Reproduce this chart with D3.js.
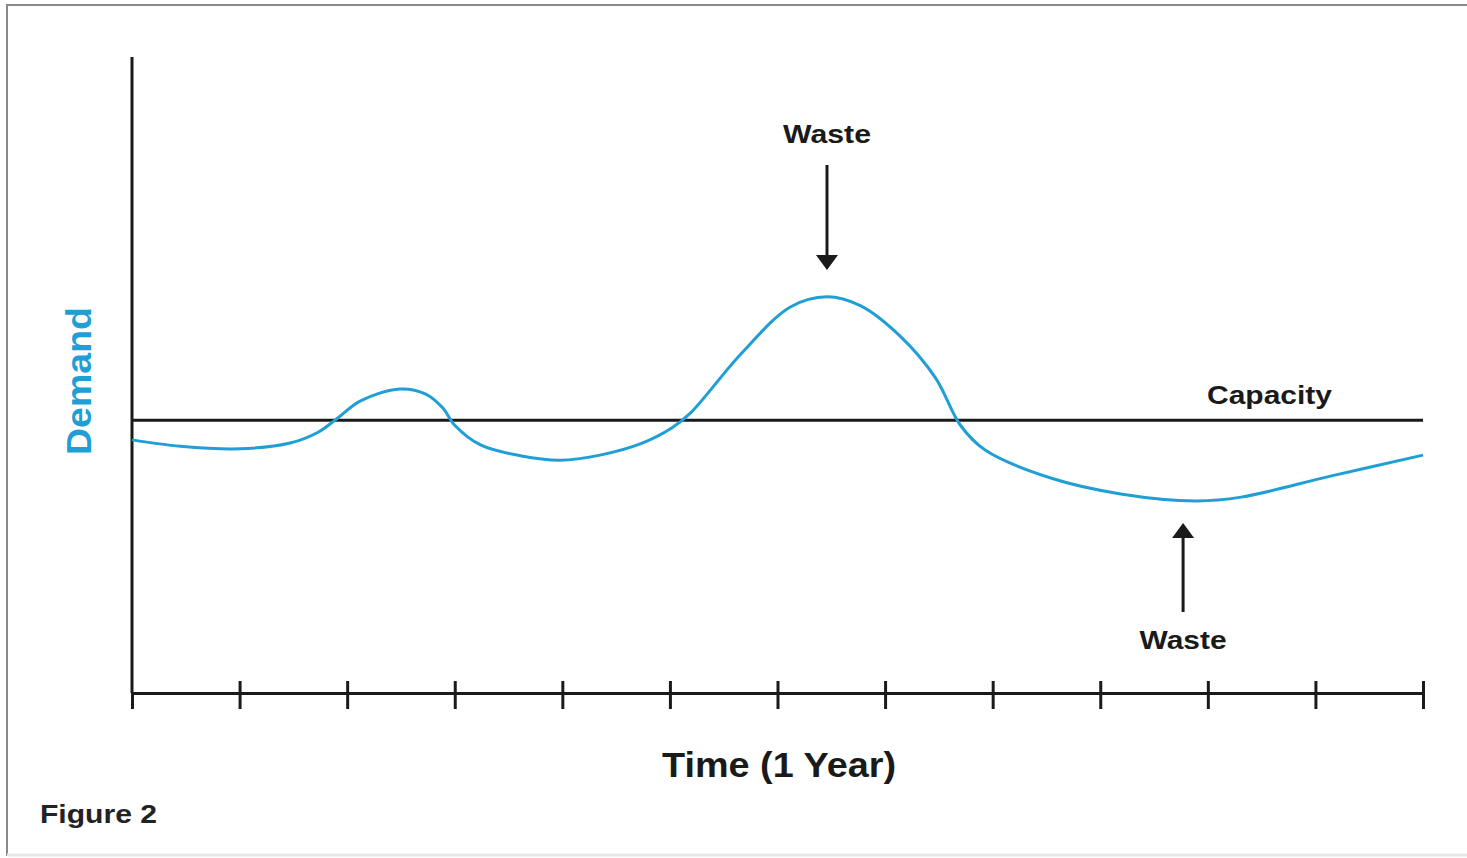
<!DOCTYPE html>
<html>
<head>
<meta charset="utf-8">
<script src="https://cdn.jsdelivr.net/npm/d3@7"></script>
<style>
  body { margin: 0; background: #fff; }
  svg { display: block; font-family: "Liberation Sans", Arial, sans-serif; }
</style>
</head>
<body>
<svg id="chart" width="1467" height="858"></svg>
<script>
// months along the year (0..12) and demand in arbitrary units
const months = [0, 0.45, 1.0, 1.47, 1.73, 1.91, 2.12, 2.49, 2.73, 2.89, 3.0, 3.24, 3.61, 3.98, 4.35, 4.73, 5.02, 5.19, 5.66, 6.12, 6.46, 6.77, 7.14, 7.47, 7.7, 7.93, 8.54, 9.19, 9.89, 10.31, 11.14, 12.0];
const demand = [3.98, 3.88, 3.84, 3.93, 4.10, 4.32, 4.59, 4.78, 4.70, 4.48, 4.21, 3.90, 3.73, 3.66, 3.74, 3.92, 4.17, 4.40, 5.33, 6.07, 6.23, 6.09, 5.61, 4.95, 4.21, 3.82, 3.38, 3.13, 3.02, 3.08, 3.41, 3.74];
const capacity = 4.29;
const tickMonths = d3.range(0, 13);
const wastePeak = { month: 6.46, label: "Waste" };
const wasteDip = { month: 9.77, label: "Waste" };

const svg = d3.select("#chart");
const margin = { top: 57, right: 44, bottom: 165, left: 132 };
const width = 1467, height = 858;

const x = d3.scaleLinear().domain([0, 12]).range([margin.left, width - margin.right]);
const y = d3.scaleLinear().domain([0, 10]).range([height - margin.bottom, margin.top]);

// frame
svg.append("rect")
  .attr("x", 7).attr("y", 5)
  .attr("width", 1470).attr("height", 850)
  .attr("fill", "none")
  .attr("stroke", "#8a8a8a")
  .attr("stroke-width", 2);
svg.append("line")
  .attr("x1", 7).attr("x2", 1467).attr("y1", 855).attr("y2", 855)
  .attr("stroke", "#e8e8e8").attr("stroke-width", 3);

const ink = "#1a1a1a";
const blue = "#1f9fd6";

// y axis (no ticks)
svg.append("line")
  .attr("x1", x(0)).attr("x2", x(0))
  .attr("y1", y(10)).attr("y2", y(0))
  .attr("stroke", ink).attr("stroke-width", 3);

// x axis
const xAxis = svg.append("g")
  .attr("transform", `translate(0,${y(0)})`)
  .call(d3.axisBottom(x).tickValues(tickMonths).tickFormat("").tickSize(16).tickSizeOuter(0));
xAxis.select(".domain").attr("stroke", ink).attr("stroke-width", 3);
xAxis.selectAll(".tick line")
  .attr("stroke", ink).attr("stroke-width", 3)
  .attr("y1", d => d === 0 ? 0 : -12);

// capacity line
svg.append("line")
  .attr("x1", x(0)).attr("x2", x(12))
  .attr("y1", y(capacity)).attr("y2", y(capacity))
  .attr("stroke", ink).attr("stroke-width", 3);

// bold label stretched to the width it has in the figure
function label(xp, yp, txt, size, len, anchor, fill) {
  return svg.append("text")
    .attr("x", xp).attr("y", yp)
    .attr("text-anchor", anchor || "start")
    .attr("font-size", size).attr("font-weight", "bold")
    .attr("fill", fill || ink)
    .attr("textLength", len).attr("lengthAdjust", "spacingAndGlyphs")
    .text(txt);
}

label(1207, y(capacity) - 16, "Capacity", 25, 125);

// demand curve
const line = d3.line()
  .x((d, i) => x(months[i]))
  .y(d => y(d))
  .curve(d3.curveCatmullRom.alpha(0.5));

svg.append("path")
  .datum(demand)
  .attr("d", line)
  .attr("fill", "none")
  .attr("stroke", blue)
  .attr("stroke-width", 3);

// arrows
function arrow(xm, yFrom, yTo) {
  const dir = yTo > yFrom ? 1 : -1;
  const headLen = 15, headHalf = 11;
  svg.append("line")
    .attr("x1", x(xm)).attr("x2", x(xm))
    .attr("y1", yFrom).attr("y2", yTo - dir * headLen)
    .attr("stroke", ink).attr("stroke-width", 3);
  svg.append("path")
    .attr("d", `M${x(xm) - headHalf},${yTo - dir * headLen}L${x(xm) + headHalf},${yTo - dir * headLen}L${x(xm)},${yTo}Z`)
    .attr("fill", ink);
}
arrow(wastePeak.month, 165, 270);
arrow(wasteDip.month, 612, 523);

label(x(wastePeak.month), 143, wastePeak.label, 25, 88, "middle");
label(x(wasteDip.month), 649, wasteDip.label, 25, 87, "middle");

// axis titles
label(779, 777, "Time (1 Year)", 35, 234, "middle");

svg.append("text")
  .attr("transform", "translate(91,381) rotate(-90)")
  .attr("text-anchor", "middle")
  .attr("font-size", 35).attr("font-weight", "bold").attr("fill", blue)
  .attr("textLength", 148).attr("lengthAdjust", "spacingAndGlyphs")
  .text("Demand");

label(40, 823, "Figure 2", 26, 117, "start", "#222");
</script>
</body>
</html>
